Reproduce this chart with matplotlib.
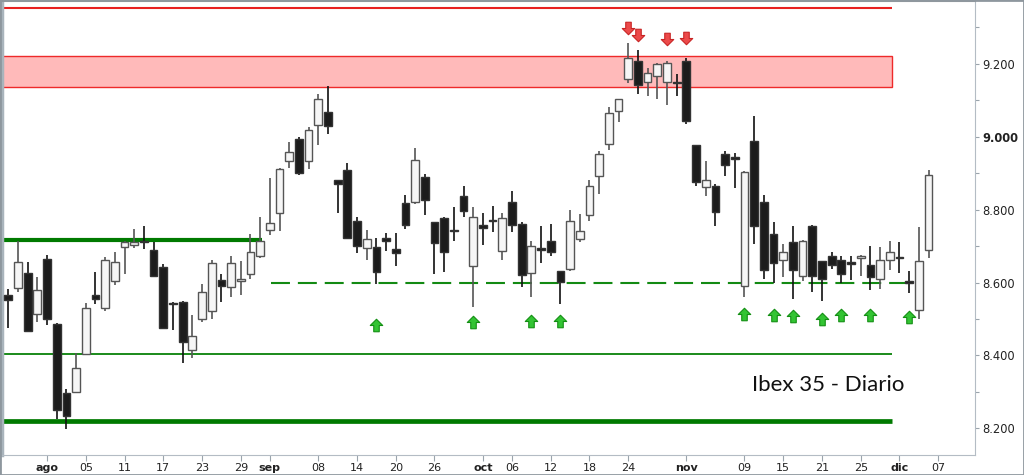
import numpy as np
import pandas as pd
import matplotlib
matplotlib.use('Agg')
import matplotlib.pyplot as plt
from matplotlib.path import Path
from matplotlib.patches import Rectangle

# Ibex 35 daily candles, 26 Jul 2016 - 06 Dec 2016
dates = pd.bdate_range('2016-07-26', '2016-12-06')

opens = [8567, 8586, 8625, 8514, 8665, 8485, 8296, 8299, 8405, 8567,
         8531, 8605, 8697, 8704, 8713, 8688, 8642, 8541, 8547, 8416,
         8501, 8522, 8608, 8588, 8604, 8624, 8674, 8745, 8790, 8932,
         8994, 8934, 9033, 9067, 8880, 8909, 8770, 8695, 8697, 8723,
         8693, 8819, 8820, 8889, 8766, 8776, 8742, 8836, 8645, 8759,
         8769, 8686, 8820, 8761, 8627, 8691, 8713, 8631, 8636, 8720,
         8786, 8891, 8980, 9069, 9158, 9208, 9151, 9165, 9151, 9148,
         9208, 8977, 8861, 8864, 8953, 8940, 8590, 8987, 8822, 8734,
         8663, 8711, 8618, 8754, 8658, 8672, 8663, 8652, 8668, 8647,
         8611, 8661, 8668, 8604, 8524, 8690]
closes = [8551, 8657, 8466, 8580, 8501, 8250, 8235, 8366, 8530, 8554,
          8663, 8655, 8711, 8711, 8710, 8617, 8474, 8540, 8437, 8453,
          8574, 8653, 8590, 8654, 8611, 8683, 8715, 8764, 8912, 8957,
          8901, 9017, 9103, 9030, 8869, 8723, 8700, 8718, 8629, 8713,
          8682, 8758, 8936, 8825, 8709, 8683, 8740, 8796, 8781, 8750,
          8768, 8777, 8758, 8620, 8700, 8690, 8683, 8601, 8768, 8741,
          8866, 8953, 9065, 9103, 9216, 9142, 9174, 9199, 9203, 9146,
          9044, 8875, 8882, 8793, 8921, 8939, 8904, 8755, 8633, 8654,
          8685, 8635, 8715, 8618, 8609, 8647, 8622, 8651, 8674, 8615,
          8663, 8685, 8666, 8600, 8659, 8896]
highs = [8581, 8714, 8655, 8615, 8676, 8488, 8307, 8408, 8545, 8628,
         8670, 8685, 8713, 8748, 8754, 8711, 8650, 8547, 8548, 8512,
         8597, 8663, 8622, 8672, 8658, 8734, 8781, 8887, 8915, 8984,
         8998, 9026, 9117, 9140, 8881, 8927, 8781, 8743, 8723, 8736,
         8736, 8839, 8969, 8898, 8766, 8781, 8808, 8866, 8807, 8790,
         8811, 8790, 8850, 8766, 8713, 8754, 8761, 8631, 8800, 8787,
         8882, 8960, 9080, 9104, 9257, 9237, 9187, 9202, 9208, 9173,
         9217, 8978, 8932, 8871, 8962, 8955, 8905, 9058, 8841, 8767,
         8706, 8754, 8716, 8757, 8660, 8683, 8672, 8672, 8675, 8700,
         8697, 8713, 8711, 8631, 8752, 8909]
lows = [8474, 8574, 8466, 8492, 8483, 8225, 8197, 8296, 8405, 8540,
        8521, 8592, 8622, 8694, 8692, 8617, 8474, 8469, 8378, 8392,
        8492, 8499, 8547, 8559, 8565, 8611, 8667, 8729, 8741, 8915,
        8896, 8912, 8977, 9008, 8790, 8723, 8682, 8661, 8597, 8686,
        8644, 8747, 8814, 8784, 8624, 8629, 8713, 8779, 8533, 8704,
        8738, 8663, 8738, 8588, 8559, 8654, 8674, 8542, 8631, 8711,
        8768, 8843, 8964, 9039, 9147, 9117, 9112, 9103, 9088, 9112,
        9035, 8866, 8836, 8756, 8893, 8860, 8560, 8706, 8609, 8599,
        8615, 8554, 8604, 8574, 8548, 8638, 8599, 8606, 8618, 8579,
        8583, 8635, 8627, 8570, 8501, 8668]

# signal arrows (dates and price where the arrow sits)
buy_dates = ['2016-09-16', '2016-09-30', '2016-10-10', '2016-10-13', '2016-11-09',
             '2016-11-14', '2016-11-16', '2016-11-21', '2016-11-23', '2016-11-28',
             '2016-12-02']
buy_levels = [8483, 8492, 8494, 8494, 8515, 8510, 8508, 8501, 8512, 8512, 8506]
sell_dates = ['2016-10-24', '2016-10-25', '2016-10-28', '2016-11-01']
sell_levels = [9298, 9279, 9268, 9270]

# support / resistance levels
red_line = 9354
red_zone = (9135, 9222)
green_thick = [8717, 8220]
green_thin = 8405
green_dashed = 8600

tick_dates = ['2016-08-01', '2016-08-05', '2016-08-11', '2016-08-17', '2016-08-23',
              '2016-08-29', '2016-09-01', '2016-09-08', '2016-09-14', '2016-09-20',
              '2016-09-26', '2016-10-03', '2016-10-06', '2016-10-12', '2016-10-18',
              '2016-10-24', '2016-11-01', '2016-11-09', '2016-11-15', '2016-11-21',
              '2016-11-25', '2016-12-01', '2016-12-07']
tick_labels = ['ago', '05', '11', '17', '23', '29', 'sep', '08', '14', '20', '26',
               'oct', '06', '12', '18', '24', 'nov', '09', '15', '21', '25', 'dic', '07']
months = {'ago', 'sep', 'oct', 'nov', 'dic'}

axis_dates = pd.bdate_range('2016-07-26', '2016-12-20')
pos = lambda d: axis_dates.get_loc(pd.Timestamp(d))

o = np.array(opens, float)
c = np.array(closes, float)
h = np.array(highs, float)
l = np.array(lows, float)
x = np.arange(len(dates))

fig = plt.figure(figsize=(10.24, 4.75), dpi=100)
ax = fig.add_axes([2 / 1024, 20 / 475, 973 / 1024, 454 / 475])

# levels
ax.axhspan(red_zone[0], red_zone[1], xmin=0, xmax=(91.2 + 0.65) / 100.45,
           facecolor='#ffbaba', edgecolor='#ee2a2a', linewidth=1, zorder=1)
ax.hlines(red_line, -0.65, 91.2, color='#e82020', linewidth=1.5, zorder=1)
ax.hlines(green_thick[0], -0.65, 26.2, color='#007a00', linewidth=3.0, zorder=1)
ax.hlines(green_thick[1], -0.65, 91.2, color='#007a00', linewidth=3.4, zorder=1)
ax.hlines(green_thin, -0.65, 91.2, color='#1a8a1a', linewidth=1.4, zorder=1)
dl, = ax.plot([27.1, 94.1], [green_dashed, green_dashed], color='#138a13',
              linewidth=1.5, zorder=1)
dl.set_dashes([9.1, 3.8])

# candles
up = c >= o
wick_col = np.where(up, '#555555', '#111111')
ax.vlines(x, l, h, colors=wick_col, linewidth=1.2, zorder=2)
body_low = np.minimum(o, c)
body_h = np.maximum(np.abs(c - o), 4)
ax.bar(x[up], body_h[up], bottom=body_low[up], width=0.8,
       color='#f6f6f6', edgecolor='#555555', linewidth=1.0, zorder=3)
ax.bar(x[~up], body_h[~up], bottom=body_low[~up], width=0.8,
       color='#1c1c1c', edgecolor='#333333', linewidth=1.0, zorder=3)

# signal arrows
up_arrow = Path([(-0.22, -0.5), (0.22, -0.5), (0.22, 0.0), (0.5, 0.0), (0.0, 0.5),
                 (-0.5, 0.0), (-0.22, 0.0), (-0.22, -0.5)], closed=True)
down_arrow = Path([(vx, -vy) for vx, vy in up_arrow.vertices], closed=True)
ax.plot([pos(d) for d in buy_dates], buy_levels, linestyle='none', marker=up_arrow,
        markersize=9, markerfacecolor='#33c433', markeredgecolor='#138f13',
        markeredgewidth=0.8, zorder=4)
ax.plot([pos(d) for d in sell_dates], sell_levels, linestyle='none', marker=down_arrow,
        markersize=9, markerfacecolor='#ec4a4a', markeredgecolor='#c82424',
        markeredgewidth=0.8, zorder=4)

ax.text(76.75, 8318, 'Ibex 35 - Diario', fontsize=16, family='Lato',
        color='#111111', ha='left', va='center')

# axes formatting
ax.set_xlim(-0.65, 99.8)
ax.set_ylim(8127, 9372)
ax.yaxis.tick_right()
yt = np.arange(8200, 9201, 200)
ax.set_yticks(yt)
ax.set_yticks(np.arange(8300, 9400, 200), minor=True)
ax.set_yticklabels([f"{v:,.0f}".replace(',', '.') for v in yt])
for lab, v in zip(ax.get_yticklabels(), yt):
    if v == 9000:
        lab.set_fontweight('bold')
ax.set_xticks([pos(d) for d in tick_dates])
ax.set_xticklabels(tick_labels)
for lab in ax.get_xticklabels():
    if lab.get_text() in months:
        lab.set_fontweight('bold')
ax.tick_params(axis='y', which='both', length=3, width=0.8, color='#9aa4ac',
               labelsize=8.3, labelcolor='#222222', pad=2)
ax.tick_params(axis='x', length=4, width=0.8, color='#9aa4ac',
               labelsize=8, labelcolor='#222222', pad=2)

ax.spines['left'].set_color('#a9b4bc')
ax.spines['left'].set_linewidth(2.5)
ax.spines['top'].set_color('#9a9a9a')
ax.spines['top'].set_linewidth(1.5)
ax.spines['right'].set_color('#b4bcc4')
ax.spines['bottom'].set_color('#b4bcc4')

fig.add_artist(Rectangle((0, 0), 1, 1, transform=fig.transFigure, fill=False,
                         edgecolor='#8e979e', linewidth=2))

plt.savefig('out.png', dpi=100, facecolor='white')
